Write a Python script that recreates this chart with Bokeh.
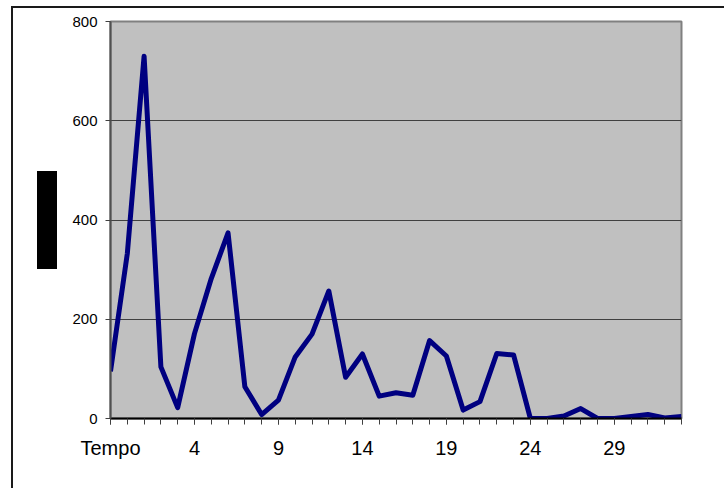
from bokeh.plotting import figure
from bokeh.models import FixedTicker, Range1d, Div
from bokeh.layouts import column, row
from bokeh.embed import file_html
from bokeh.resources import INLINE

categories = ["Tempo"] + [str(i) for i in range(34)]
values = [95, 332, 730, 104, 22, 171, 282, 374, 64, 8, 37, 124, 170, 257, 83,
          130, 45, 52, 47, 157, 126, 17, 34, 131, 128, 0, 0, 5, 20, 0, 0, 4, 8, 1, 4]
y_ticks = [0, 200, 400, 600, 800]
label_every = 5

xs = list(range(len(categories)))

p = figure(width=667, height=480, output_backend="svg", toolbar_location=None,
           x_range=Range1d(0, len(categories) - 1), y_range=Range1d(0, 800))
p.min_border_left = 53
p.min_border_right = 43
p.min_border_top = 13
p.min_border_bottom = 70
p.background_fill_color = "#C0C0C0"
p.border_fill_color = "white"
p.outline_line_color = "#808080"
p.outline_line_width = 2

p.line(xs, values, line_color="#000080", line_width=5, line_join="round")

p.xgrid.visible = False
p.ygrid.ticker = FixedTicker(ticks=y_ticks)
p.ygrid.grid_line_color = "#404040"
p.ygrid.grid_line_width = 1

xa = p.xaxis[0]
xa.ticker = FixedTicker(ticks=xs[::label_every], minor_ticks=xs)
xa.major_label_overrides = {i: categories[i] for i in xs[::label_every]}
xa.axis_line_color = "black"
xa.axis_line_width = 2
xa.major_tick_in = 0
xa.major_tick_out = 6
xa.minor_tick_in = 0
xa.minor_tick_out = 6
xa.major_tick_line_color = "#404040"
xa.minor_tick_line_color = "#404040"
xa.major_label_text_font = "Liberation Sans"
xa.major_label_text_font_size = "20px"
xa.major_label_text_color = "black"
xa.major_label_standoff = 12

ya = p.yaxis[0]
ya.ticker = FixedTicker(ticks=y_ticks)
ya.axis_line_color = "#505050"
ya.axis_line_width = 2
ya.major_tick_in = 0
ya.major_tick_out = 5
ya.minor_tick_line_color = None
ya.major_tick_line_color = "#404040"
ya.major_label_text_font = "Liberation Sans"
ya.major_label_text_font_size = "15px"
ya.major_label_text_color = "black"
ya.major_label_standoff = 8

# black box where the y-axis title sits
box = Div(text="", width=20, height=98, margin=(163, 0, 0, 24),
          styles={"background-color": "black"})

layout = column(row(box, p), styles={"margin-left": "11px", "margin-top": "6px",
                                     "border-left": "2px solid #1a1a1a",
                                     "border-top": "2px solid #1a1a1a",
                                     "border-right": "0px none",
                                     "border-bottom": "0px none"})

open("out.html", "w").write(file_html(layout, INLINE))
